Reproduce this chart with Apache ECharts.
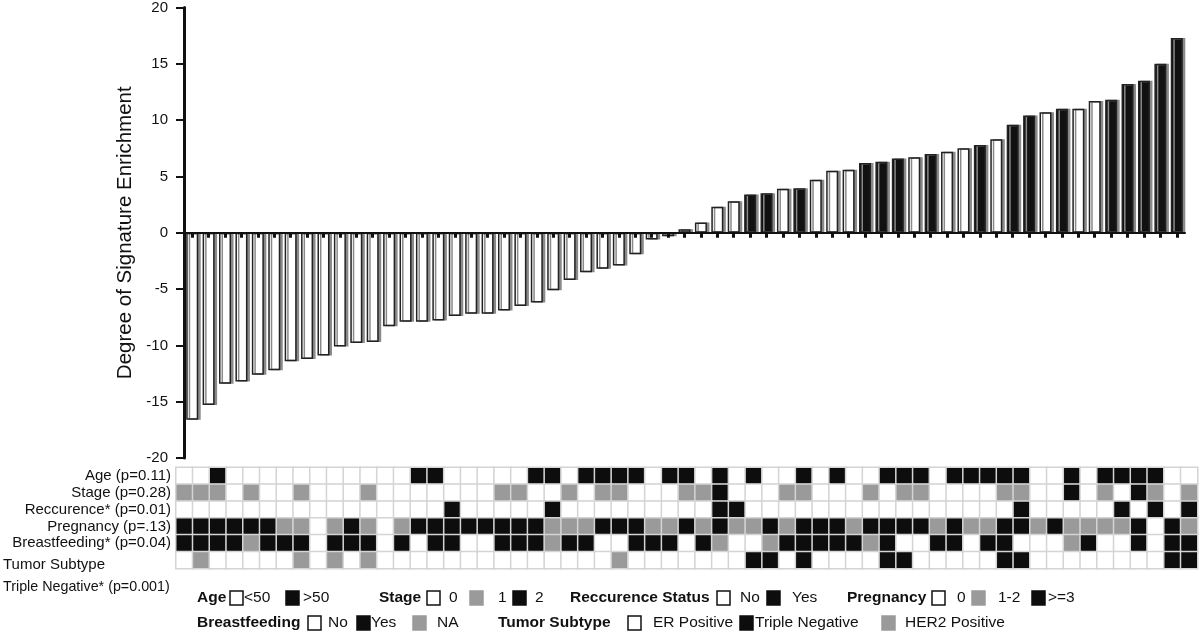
<!DOCTYPE html>
<html>
<head>
<meta charset="utf-8">
<script src="https://cdn.jsdelivr.net/npm/echarts@6/dist/echarts.min.js"></script>
<style>
  html, body { margin: 0; padding: 0; background: #fff; }
  #chart { width: 1200px; height: 637px; }
</style>
</head>
<body>
<div id="chart"></div>
<script>
// bar values, sorted samples
const barValues = [
  -16.6, -15.3, -13.4, -13.2, -12.6, -12.2, -11.4, -11.2, -10.9, -10.1,
  -9.8, -9.7, -8.3, -7.9, -7.9, -7.8, -7.4, -7.2, -7.2, -6.9,
  -6.5, -6.2, -5.1, -4.2, -3.5, -3.2, -2.9, -1.9, -0.6, -0.3,
  0.3, 0.9, 2.3, 2.8, 3.4, 3.5, 3.9, 3.95, 4.7, 5.5,
  5.6, 6.2, 6.3, 6.6, 6.7, 7.0, 7.2, 7.5, 7.8, 8.3,
  9.6, 10.4, 10.7, 11.0, 11.0, 11.7, 11.8, 13.2, 13.5, 15.0,
  17.3
]
// 1 = filled (black) bar, 0 = open bar
const barFilled = [
  0,0,0,0,0,0,0,0,0,0, 0,0,0,0,0,0,0,0,0,0,
  0,0,0,0,0,0,0,0,0,0, 0,0,0,0,1,1,0,1,0,0,
  0,1,1,1,0,1,0,0,1,0, 1,1,0,1,0,0,1,1,1,1,
  1
]
const samples = barValues.map((v, i) => 'S' + (i + 1))

// annotation rows: 0 = white, 1 = grey, 2 = black
const rowLabels = ['Age (p=0.11)', 'Stage (p=0.28)', 'Reccurence* (p=0.01)',
  'Pregnancy (p=.13)', 'Breastfeeding* (p=0.04)', 'Tumor Subtype']
const tumorNote = 'Triple Negative* (p=0.001)'

const ageRow = [
  0,0,2,0,0,0,0,0,0,0, 0,0,0,0,2,2,0,0,0,0,
  0,2,2,0,2,2,2,2,0,2, 2,0,2,0,2,0,0,2,0,2,
  0,0,2,2,2,0,2,2,2,2, 2,0,0,2,0,2,2,2,2,0,
  0
]
const stageRow = [
  1,1,1,0,1,0,0,1,0,0, 0,1,0,0,0,0,0,0,0,1,
  1,0,0,1,0,1,1,0,0,0, 1,1,2,0,0,0,1,1,0,0,
  0,1,0,1,1,0,0,0,0,1, 1,0,0,2,0,1,0,2,1,0,
  1
]
const recurRow = [
  0,0,0,0,0,0,0,0,0,0, 0,0,0,0,0,0,2,0,0,0,
  0,0,2,0,0,0,0,0,0,0, 0,0,2,2,0,0,0,0,0,0,
  0,0,0,0,0,0,0,0,0,0, 2,0,0,0,0,0,2,0,2,0,
  2
]
const pregRow = [
  2,2,2,2,2,2,1,1,0,1, 2,1,0,1,2,2,2,2,2,2,
  2,2,1,1,1,2,2,2,1,1, 2,1,2,1,1,2,1,2,2,2,
  1,2,2,2,2,1,2,1,1,2, 2,1,2,1,1,1,1,2,0,2,
  1
]
const breastRow = [
  2,2,2,2,1,2,2,2,0,2, 2,2,0,2,0,2,2,0,0,2,
  2,2,1,2,2,0,0,2,2,2, 0,2,1,0,0,1,2,2,2,2,
  2,1,2,0,0,2,2,0,2,2, 0,0,0,1,2,0,0,2,0,2,
  2
]
const tumorRow = [
  0,1,0,0,0,0,0,1,0,1, 0,1,0,0,0,0,0,0,0,0,
  0,0,0,0,0,0,1,0,0,0, 0,0,0,0,2,2,0,2,0,0,
  0,0,2,2,0,0,0,0,0,2, 2,0,0,0,0,0,0,0,0,2,
  2
]
const rows = [ageRow, stageRow, recurRow, pregRow, breastRow, tumorRow]

// legend lines: b = bold label, t = text, w/g/k = white/grey/black box
const legendLine1 = [
  ['b', 'Age', 197], ['w', 230], ['t', '<50', 244], ['k', 286], ['t', '>50', 303],
  ['b', 'Stage', 379], ['w', 427], ['t', '0', 449], ['g', 470], ['t', '1', 498], ['k', 513], ['t', '2', 535],
  ['b', 'Reccurence Status', 570], ['w', 717], ['t', 'No', 740], ['k', 767], ['t', 'Yes', 792],
  ['b', 'Pregnancy', 847], ['w', 932], ['t', '0', 957], ['g', 972], ['t', '1-2', 998], ['k', 1032], ['t', '>=3', 1048]
]
const legendLine2 = [
  ['b', 'Breastfeeding', 197], ['w', 308], ['t', 'No', 328], ['k', 357], ['t', 'Yes', 371], ['g', 413], ['t', 'NA', 437],
  ['b', 'Tumor Subtype', 498], ['w', 628], ['t', 'ER Positive', 653], ['k', 740], ['t', 'Triple Negative', 755],
  ['g', 882], ['t', 'HER2 Positive', 905]
]

const FONT = "'Liberation Sans', Arial, sans-serif"
const BLACK = '#0d0d0d'
const GREY = '#9a9a9a'

const heatData = []
rows.forEach((row, r) => {
  row.forEach((v, j) => heatData.push([j, r, v]))
})

function legendItems(line, cy) {
  const out = []
  line.forEach(it => {
    if (it[0] === 'b' || it[0] === 't') {
      out.push({
        type: 'text', x: it[2], y: cy,
        style: {
          text: it[1], fill: '#111', fontSize: 15.5, fontFamily: FONT,
          fontWeight: it[0] === 'b' ? 'bold' : 'normal', verticalAlign: 'middle'
        }
      })
    } else {
      const fill = it[0] === 'w' ? '#fff' : (it[0] === 'g' ? GREY : BLACK)
      out.push({
        type: 'rect', shape: { x: it[1], y: cy - 7, width: 13, height: 14 },
        style: { fill: fill, stroke: it[0] === 'w' ? '#111' : fill, lineWidth: 1.5 }
      })
    }
  })
  return out
}

const chart = echarts.init(document.getElementById('chart'))
const option = {
  backgroundColor: '#fff',
  animation: false,
  grid: [
    { left: 184, top: 5, width: 1001, height: 453 },
    { left: 172.5, top: 467.5, width: 1025, height: 101 }
  ],
  xAxis: [
    {
      gridIndex: 0, type: 'category', data: samples, z: 5,
      axisLine: { onZero: true, lineStyle: { color: '#111', width: 2 } },
      axisTick: { show: true, alignWithLabel: true, interval: 0, length: 5, lineStyle: { color: '#111', width: 3 } },
      axisLabel: { show: false }
    },
    {
      gridIndex: 1, type: 'category', data: samples,
      axisLine: { show: false }, axisTick: { show: false }, axisLabel: { show: false }
    }
  ],
  yAxis: [
    {
      gridIndex: 0, type: 'value', min: -20, max: 20, interval: 5,
      name: 'Degree of Signature Enrichment', nameLocation: 'middle', nameGap: 46,
      nameTextStyle: { fontSize: 20.5, fontFamily: FONT, color: '#111' },
      axisLine: { show: true, onZero: false, lineStyle: { color: '#111', width: 3 } },
      axisTick: { show: true, length: 8, lineStyle: { color: '#111', width: 2 } },
      axisLabel: { fontSize: 15, fontFamily: FONT, color: '#111', margin: 16 },
      splitLine: { show: false }
    },
    {
      gridIndex: 1, type: 'category', data: rowLabels, inverse: true,
      axisLine: { show: false }, axisTick: { show: false },
      axisLabel: {
        interval: 0,
        fontSize: 15, fontFamily: FONT, color: '#111', margin: 5,
        formatter: function (v, idx) {
          if (idx === 5) return '{e| }\n{l|' + v + '}\n{n|' + tumorNote + '}'
          return v
        },
        rich: {
          e: { lineHeight: 31, fontSize: 10 },
          l: { width: 168, align: 'left', fontSize: 15, fontFamily: FONT, color: '#111', lineHeight: 22 },
          n: { width: 168, align: 'left', fontSize: 14.3, fontFamily: FONT, color: '#111', lineHeight: 22 }
        }
      }
    }
  ],
  visualMap: {
    show: false, type: 'piecewise', seriesIndex: 1, dimension: 2,
    pieces: [
      { value: 0, color: '#ffffff' },
      { value: 1, color: GREY },
      { value: 2, color: BLACK }
    ]
  },
  series: [
    {
      type: 'bar', xAxisIndex: 0, yAxisIndex: 0, barWidth: 12,
      data: barValues.map((v, i) => ({
        value: v,
        itemStyle: { color: barFilled[i] ? '#111' : '#fff' }
      })),
      itemStyle: {
        borderColor: '#222', borderWidth: 1.5,
        shadowColor: '#8a8a8a', shadowOffsetX: 2.5, shadowOffsetY: 0, shadowBlur: 0
      },
      emphasis: { disabled: true }
    },
    {
      type: 'heatmap', xAxisIndex: 1, yAxisIndex: 1, data: heatData,
      itemStyle: { borderColor: '#d4d4d4', borderWidth: 1.5 },
      emphasis: { disabled: true }
    }
  ],
  graphic: legendItems(legendLine1, 598).concat(legendItems(legendLine2, 623))
}
chart.setOption(option)
</script>
</body>
</html>
